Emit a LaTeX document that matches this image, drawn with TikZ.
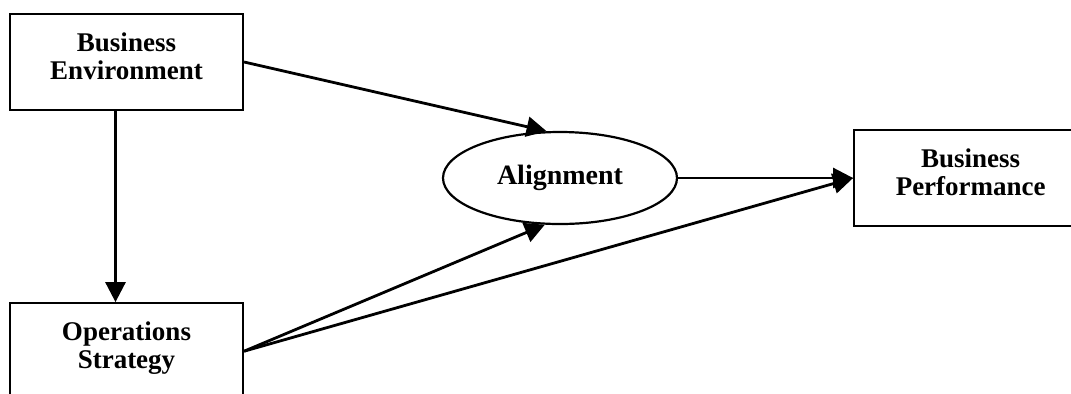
\documentclass[tikz,border=0pt]{standalone}
\usepackage{fontspec}
\setmainfont{Liberation Serif}
\usetikzlibrary{arrows.meta,positioning,shapes.geometric}

\begin{document}
\begin{tikzpicture}[
  x=0.5pt, y=-0.5pt,
  node distance=95.5pt,
  box/.style={draw, line width=1.1pt, minimum width=116.5pt, minimum height=48pt,
    text depth=6pt, align=center, font=\bfseries\fontsize{13.5}{14}\selectfont},
  oval/.style={draw, ellipse, line width=1.1pt, minimum width=117pt, minimum height=46pt,
    inner sep=0pt, font=\bfseries\fontsize{14}{14}\selectfont},
  arrow/.style={-{Triangle[length=10pt,width=10pt]}, line width=1.4pt}
]
\useasboundingbox (0,0) rectangle (1071,393);

\node[box] (env) at (126.5,62) {Business\\Environment};
\node[box, below=of env] (ops) {Operations\\Strategy};
\node[oval] (align) at (560,178) {Alignment};
\node[box, right=87.5pt of align] (perf) {Business\\Performance};

\draw[arrow] (env.east) -- (align.106);
\draw[arrow] ([xshift=-5.5pt]env.south) -- ([xshift=-5.5pt]ops.north);
\draw[arrow] (ops.east) -- (align.252);
\draw[arrow] (ops.east) -- (perf.west);
\draw[arrow] (align.east) -- (perf.west);
\end{tikzpicture}
\end{document}
